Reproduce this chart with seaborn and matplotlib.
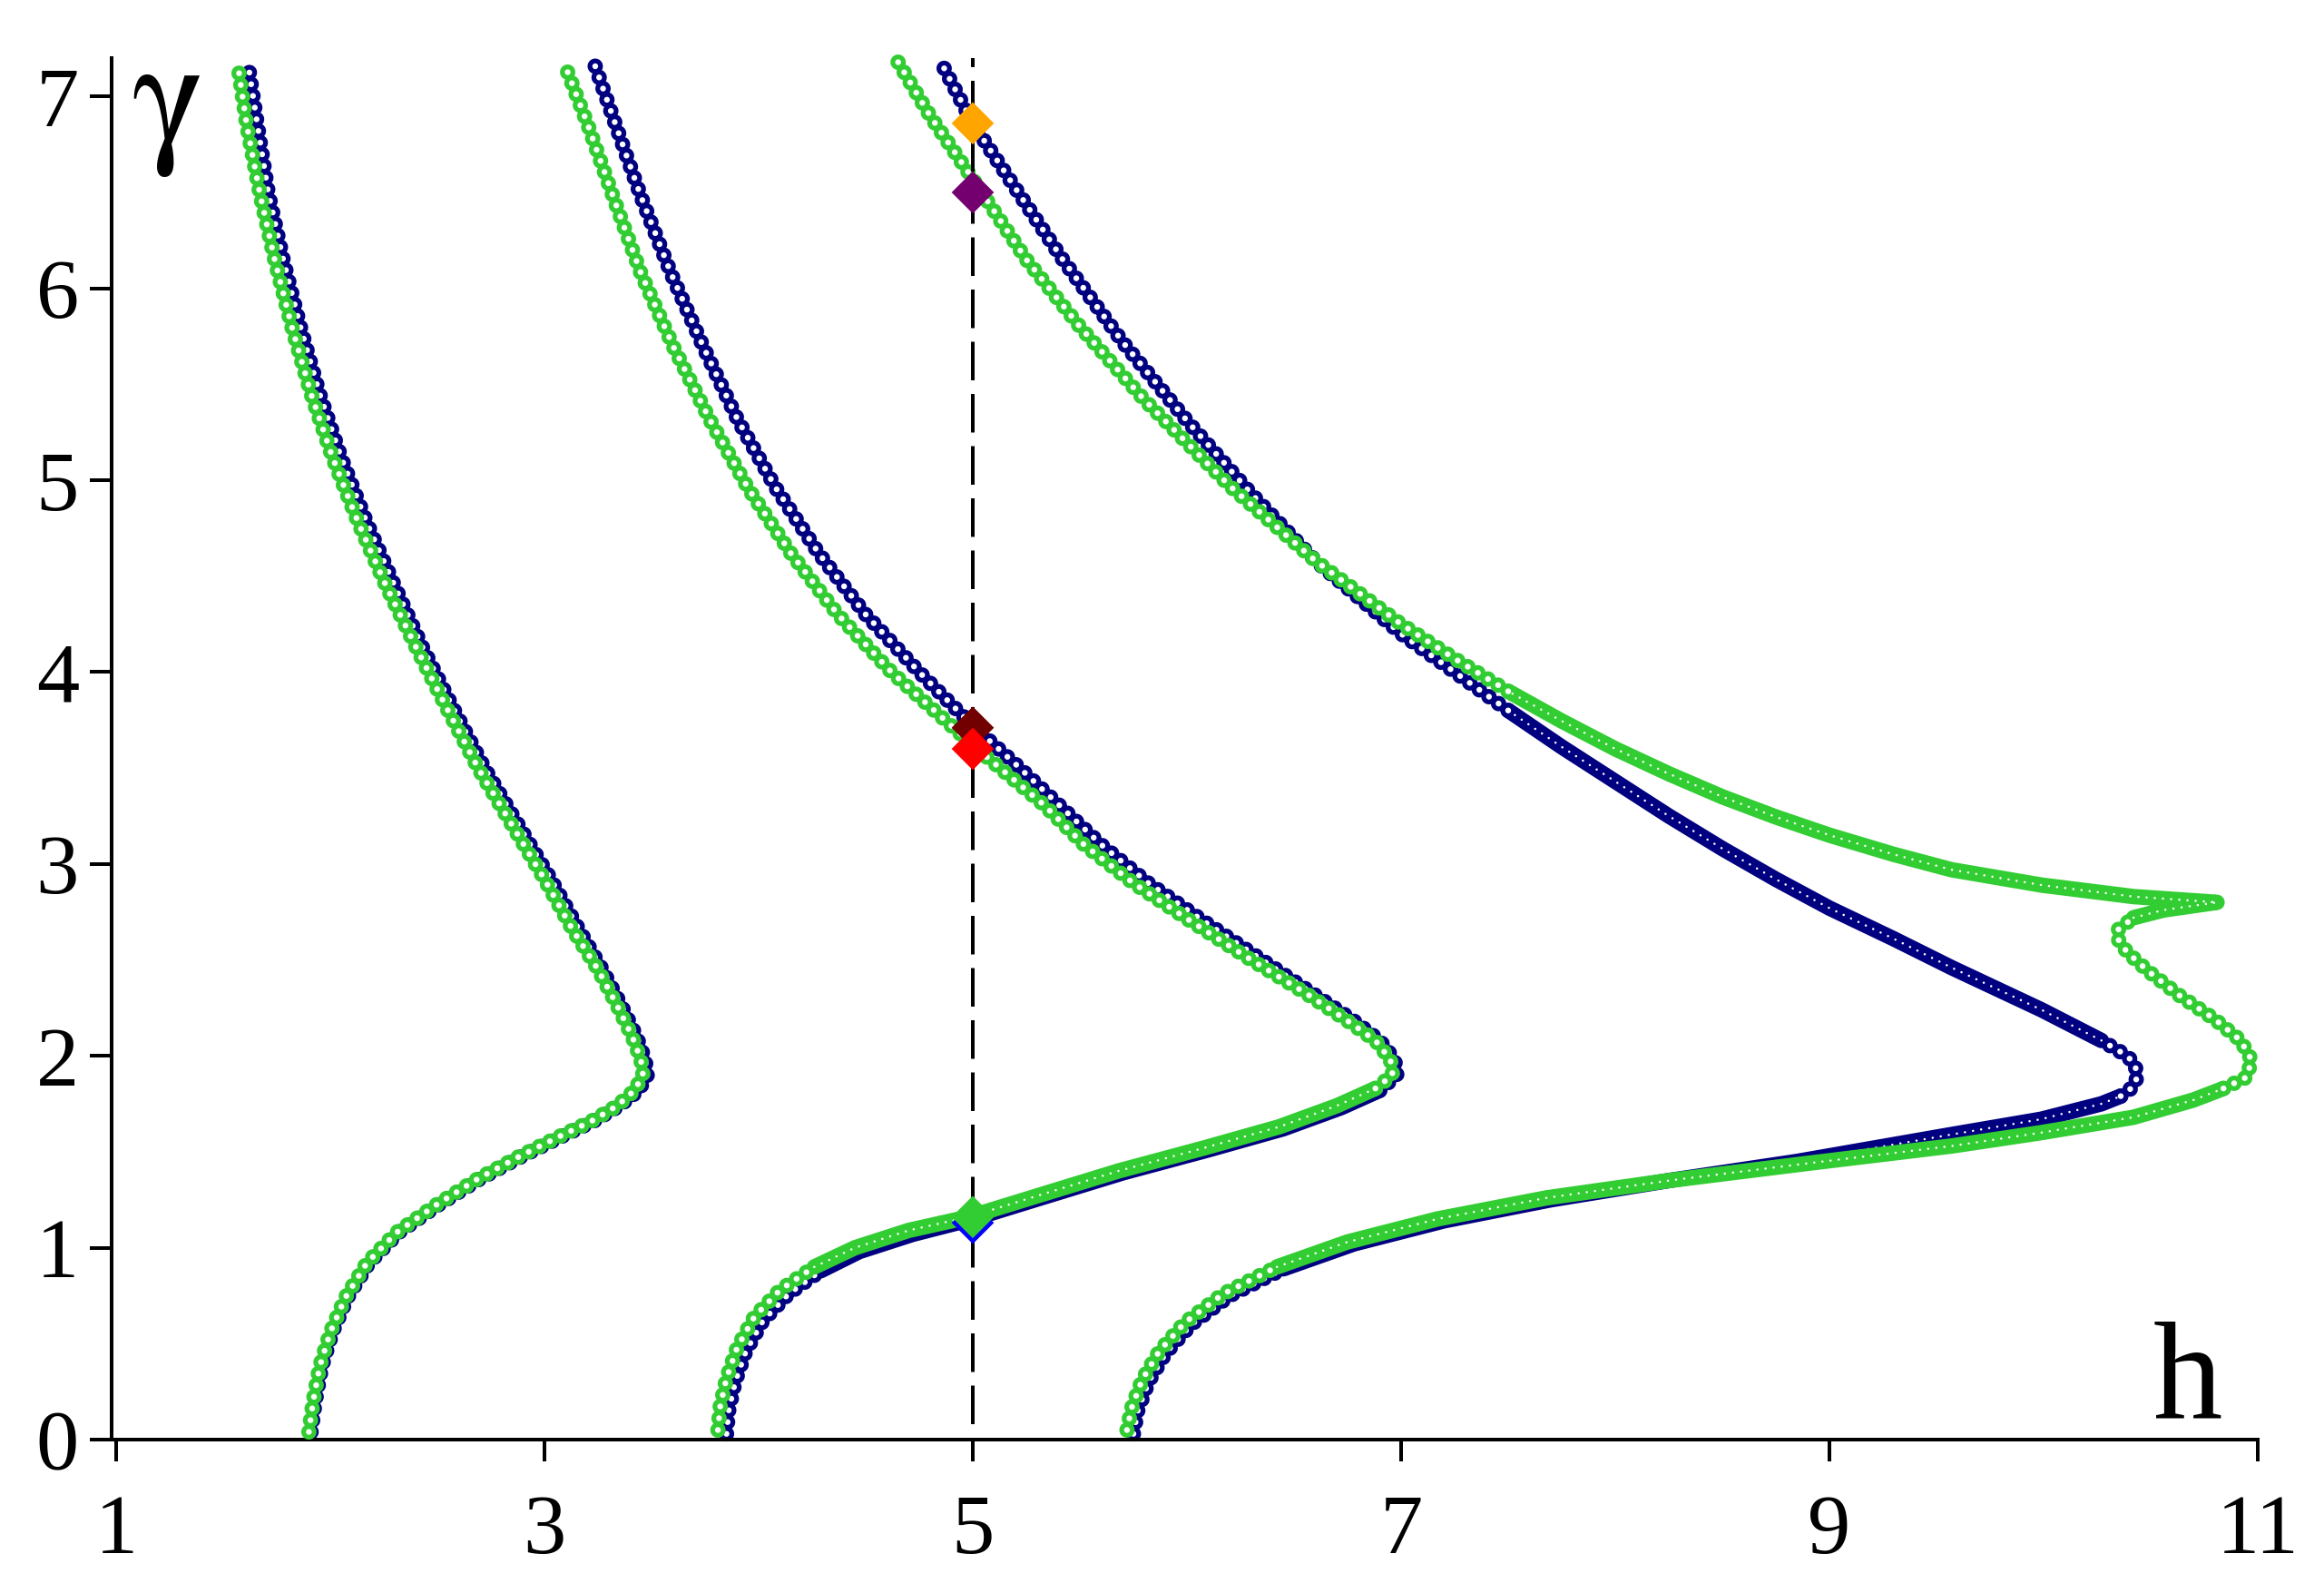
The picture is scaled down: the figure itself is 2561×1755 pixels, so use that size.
import matplotlib
matplotlib.use("Agg")
import matplotlib.pyplot as plt
import seaborn as sns
import pandas as pd

# ---------------- data ----------------
navy_A_h = [1.91, 1.93, 1.96, 2.01, 2.08, 2.18, 2.32, 2.50, 2.70, 2.90, 3.08, 3.23, 3.35, 3.44, 3.48, 3.47, 3.43,
            3.36, 3.27, 3.16, 3.03, 2.88, 2.72, 2.57, 2.43, 2.30, 2.17, 2.05, 1.95, 1.86, 1.78, 1.71, 1.66, 1.62]
navy_A_g = [0.04, 0.20, 0.38, 0.56, 0.74, 0.92, 1.08, 1.22, 1.36, 1.48, 1.58, 1.66, 1.74, 1.82, 1.90, 1.98, 2.10,
            2.26, 2.45, 2.66, 2.92, 3.20, 3.50, 3.82, 4.13, 4.45, 4.78, 5.12, 5.45, 5.80, 6.15, 6.50, 6.85, 7.14]
green_A_h = [1.90, 1.92, 1.95, 2.00, 2.07, 2.17, 2.31, 2.49, 2.69, 2.89, 3.07, 3.22, 3.34, 3.42, 3.46, 3.45, 3.41,
             3.34, 3.25, 3.13, 3.00, 2.85, 2.69, 2.54, 2.40, 2.26, 2.13, 2.01, 1.91, 1.82, 1.74, 1.67, 1.61, 1.57]
green_A_g = [0.04, 0.20, 0.38, 0.56, 0.74, 0.92, 1.08, 1.22, 1.36, 1.48, 1.58, 1.66, 1.74, 1.82, 1.90, 1.98, 2.10,
             2.26, 2.45, 2.66, 2.92, 3.20, 3.50, 3.82, 4.13, 4.45, 4.78, 5.12, 5.45, 5.80, 6.15, 6.50, 6.85, 7.15]

navy_B_h = [3.85, 3.86, 3.89, 3.94, 4.02, 4.14, 4.29, 4.47, 4.72, 5.00, 5.32, 5.70, 6.10, 6.45, 6.72, 6.90, 6.98,
            6.97, 6.90, 6.77, 6.58, 6.35, 6.08, 5.82, 5.60, 5.40, 5.20, 5.00, 4.75, 4.50, 4.28, 4.08, 3.90, 3.74,
            3.59, 3.45, 3.33, 3.23]
navy_B_g = [0.03, 0.15, 0.30, 0.46, 0.62, 0.76, 0.88, 0.98, 1.07, 1.15, 1.26, 1.39, 1.51, 1.62, 1.73, 1.82, 1.90,
            1.98, 2.08, 2.19, 2.33, 2.50, 2.70, 2.90, 3.10, 3.31, 3.52, 3.72, 4.00, 4.30, 4.62, 4.96, 5.32, 5.70,
            6.08, 6.48, 6.86, 7.18]
green_B_h = [3.81, 3.82, 3.85, 3.90, 3.98, 4.10, 4.26, 4.45, 4.70, 4.98, 5.30, 5.68, 6.08, 6.43, 6.70, 6.88, 6.96,
             6.95, 6.88, 6.74, 6.55, 6.30, 6.02, 5.75, 5.52, 5.33, 5.02, 4.62, 4.37, 4.15, 3.95, 3.77, 3.60, 3.45,
             3.32, 3.20, 3.09]
green_B_g = [0.05, 0.17, 0.32, 0.48, 0.64, 0.78, 0.90, 1.00, 1.09, 1.16, 1.27, 1.40, 1.52, 1.63, 1.74, 1.83, 1.90,
             1.98, 2.08, 2.19, 2.33, 2.50, 2.70, 2.90, 3.10, 3.31, 3.60, 4.00, 4.30, 4.62, 4.96, 5.32, 5.70, 6.08,
             6.48, 6.86, 7.18]

navy_C_h = [5.75, 5.77, 5.82, 5.90, 6.02, 6.20, 6.45, 6.78, 7.20, 7.70, 8.25, 8.85, 9.57, 9.99, 10.27, 10.36, 10.42,
            10.44, 10.42, 10.36, 10.27, 9.99, 9.57, 9.30, 9.00, 8.75, 8.50, 8.25, 8.00, 7.75, 7.50, 7.25, 7.00,
            6.60, 6.30, 6.00, 5.70, 5.42, 5.20, 5.00, 4.86]
navy_C_g = [0.03, 0.15, 0.30, 0.45, 0.60, 0.75, 0.89, 1.02, 1.14, 1.25, 1.35, 1.45, 1.59, 1.67, 1.75, 1.79, 1.84,
            1.90, 1.97, 2.02, 2.08, 2.24, 2.46, 2.61, 2.77, 2.92, 3.08, 3.25, 3.43, 3.61, 3.80, 4.00, 4.20,
            4.58, 4.93, 5.31, 5.72, 6.15, 6.52, 6.86, 7.16]
green_C_h = [5.72, 5.74, 5.79, 5.87, 5.99, 6.17, 6.42, 6.75, 7.17, 7.68, 8.25, 8.90, 9.57, 9.99, 10.42, 10.70, 10.84,
             10.95, 10.97, 10.92, 10.80, 10.64, 10.49, 10.39, 10.34, 10.35, 10.42, 10.56, 10.81, 10.42, 9.99, 9.57,
             9.30, 9.00, 8.75, 8.50, 8.25, 8.00, 7.75, 7.50, 7.25, 7.00, 6.60, 6.20, 5.80, 5.50, 5.25, 5.00, 4.80,
             4.64]
green_C_g = [0.05, 0.16, 0.31, 0.46, 0.61, 0.76, 0.90, 1.03, 1.15, 1.26, 1.35, 1.44, 1.53, 1.60, 1.68, 1.77, 1.83,
             1.89, 1.98, 2.08, 2.19, 2.31, 2.44, 2.54, 2.62, 2.66, 2.72, 2.76, 2.80, 2.83, 2.89, 2.97,
             3.05, 3.15, 3.245, 3.35, 3.47, 3.60, 3.745, 3.90, 4.07, 4.25, 4.58, 4.97, 5.42, 5.80, 6.15, 6.57, 6.90,
             7.20]

diamond_h = [5, 5, 5, 5, 5, 5]
diamond_g = [6.86, 6.50, 3.71, 3.60, 1.13, 1.16]
diamond_names = ["orange", "purple", "darkred", "red", "blue", "green"]
diamond_colors = ["#FFA500", "#740070", "#720000", "#FF0000", "#0000FF", "#32CD32"]

x_ticks = [1, 3, 5, 7, 9, 11]
y_ticks = [0, 1, 2, 3, 4, 5, 6, 7]

NAVY = "#000080"
LIME = "#32CD32"

# ---------------- style ----------------
sns.set_theme(style="ticks")
plt.rcParams["font.family"] = ["Liberation Serif", "DejaVu Serif"]
plt.rcParams["lines.scale_dashes"] = False

DPI = 200
PX = 72.0 / DPI  # points per pixel
W, H = 2561, 1755

fig = plt.figure(figsize=(W / DPI, H / DPI), dpi=DPI)
fig.patch.set_facecolor("white")
ax = fig.add_axes([123 / W, 1 - 1586 / H, (2488 - 123) / W, (1586 - 64) / H])
ax.set_facecolor("white")

OUTER = 17 * PX
SPARSE = dict(step=13 * PX, inner=6.5 * PX)
DENSE = dict(step=9 * PX, inner=2.6 * PX)


def _ring_line(df, color, lw, step, z):
    sns.lineplot(data=df, x="h", y="g", sort=False, estimator=None, color=color,
                 linewidth=lw, ax=ax, zorder=z)
    ln = ax.lines[-1]
    ln.set_linestyle((0, (0.01, step)))
    ln.set_dash_capstyle("round")
    ln.set_clip_on(False)


def draw_curve(hs, gs, color, z, dense=()):
    """Chain of hollow rings along the curve; 'dense' index ranges get tightly packed rings."""
    n = len(hs)
    cuts = sorted({0, n - 1, *[i for r in dense for i in r]})
    for a, b in zip(cuts[:-1], cuts[1:]):
        df = pd.DataFrame({"h": hs[a:b + 1], "g": gs[a:b + 1]})
        is_dense = any(a >= r[0] and b <= r[1] for r in dense)
        st = DENSE if is_dense else SPARSE
        if is_dense:
            # packed band of rings: continuous colour with small white specks
            sns.lineplot(data=df, x="h", y="g", sort=False, estimator=None, color=color,
                         linewidth=OUTER, ax=ax, zorder=z)
            ln = ax.lines[-1]
            ln.set_solid_capstyle("round")
            ln.set_solid_joinstyle("round")
            ln.set_clip_on(False)
        else:
            _ring_line(df, color, OUTER, st["step"], z)
        _ring_line(df, "white", st["inner"], st["step"], z + 0.5)


draw_curve(navy_A_h, navy_A_g, NAVY, 2)
draw_curve(green_A_h, green_A_g, LIME, 3)
draw_curve(navy_B_h, navy_B_g, NAVY, 2, dense=[(6, 15)])
draw_curve(green_B_h, green_B_g, LIME, 3, dense=[(6, 15)])
draw_curve(navy_C_h, navy_C_g, NAVY, 2, dense=[(6, 15), (20, 30)])
draw_curve(green_C_h, green_C_g, LIME, 3, dense=[(6, 16), (26, 39)])

# dashed vertical line at h = 5
ax.axvline(5, ymin=0, ymax=1, color="black", linewidth=4 * PX,
           linestyle=(40.5 * PX, (42.5 * PX, 15 * PX)), zorder=4)

# diamonds
ddf = pd.DataFrame({"h": diamond_h, "g": diamond_g, "name": diamond_names})
sns.scatterplot(data=ddf, x="h", y="g", hue="name", palette=dict(zip(diamond_names, diamond_colors)),
                marker="D", s=(33 * PX) ** 2, linewidth=0, legend=False, ax=ax, zorder=6)

ax.set_xlim(1 - 5 / 236, 11)
ax.set_ylim(0, 7.2)
ax.set_xticks(x_ticks)
ax.set_yticks(y_ticks)
ax.set_xticklabels([str(v) for v in x_ticks])
ax.set_yticklabels([str(v) for v in y_ticks])
ax.set_xlabel("")
ax.set_ylabel("")

sns.despine(ax=ax)
for s in ("left", "bottom"):
    ax.spines[s].set_linewidth(4 * PX)
    ax.spines[s].set_color("black")
ax.tick_params(axis="both", direction="out", length=24 * PX, width=4 * PX, color="black",
               labelsize=34, labelcolor="black")
ax.tick_params(axis="x", pad=13)
ax.tick_params(axis="y", pad=4.3)

ax.text(1.072, 6.75, "γ", fontsize=60, ha="left", va="baseline", color="black", family="STIXGeneral")
ax.text(10.51, 0.114, "h", fontsize=55, ha="left", va="baseline", color="black")

fig.savefig("out.png", dpi=DPI, facecolor="white")
